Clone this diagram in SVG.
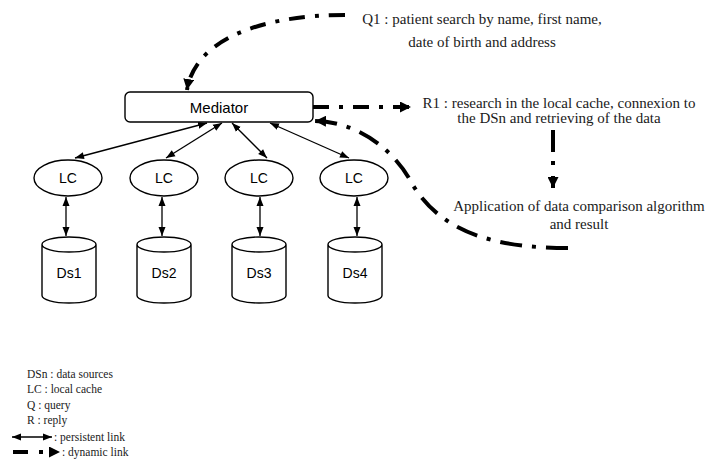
<svg xmlns="http://www.w3.org/2000/svg" width="709" height="459" viewBox="0 0 709 459">
<defs>
<style>
.node{fill:#fff;stroke:#000;stroke-width:1.4}
.sans{font-family:"Liberation Sans",Arial,sans-serif;fill:#000;text-anchor:middle}
.serif{font-family:"Liberation Serif","Times New Roman",serif;fill:#1a1a1a}
.pl{fill:none;stroke:#000;stroke-width:1.3;marker-start:url(#ps);marker-end:url(#pe)}
.dyn{fill:none;stroke:#000;stroke-width:4;stroke-dasharray:16 10 4 10;marker-end:url(#de)}
</style>
<marker id="pe" markerWidth="10" markerHeight="8" refX="9" refY="4" orient="auto" markerUnits="userSpaceOnUse">
<path d="M0,0.5 L9,4 L0,7.5 Z" fill="#000"/>
</marker>
<marker id="ps" markerWidth="10" markerHeight="8" refX="0" refY="4" orient="auto" markerUnits="userSpaceOnUse">
<path d="M9,0.5 L0,4 L9,7.5 Z" fill="#000"/>
</marker>
<marker id="de" markerWidth="12" markerHeight="11" refX="11" refY="5.5" orient="auto" markerUnits="userSpaceOnUse">
<path d="M0,0 L11,5.5 L0,11 Z" fill="#000"/>
</marker>
</defs>
<rect width="709" height="459" fill="#fff"/>

<g id="connectors">
<path class="pl" d="M75,158 L207,123"/>
<path class="pl" d="M166,158 L222,123"/>
<path class="pl" d="M267,158 L232,123"/>
<path class="pl" d="M349,158 L270,123"/>
<path class="pl" d="M66,197 L66,236"/>
<path class="pl" d="M162,197 L162,236"/>
<path class="pl" d="M260,197 L260,236"/>
<path class="pl" d="M357,197 L357,236"/>
<path class="dyn" d="M345,15 C260,15 195,40 187,90"/>
<path class="dyn" d="M313,107 L411,107"/>
<path class="dyn" style="stroke-dasharray:22 10 4 10" d="M568,248 C500,248 440,235 410,180 C398,158 365,122 315,121"/>
<path class="dyn" style="stroke-dasharray:22 9 4 11" d="M553,130 L553,188"/>
</g>

<g id="mediator">
<rect class="node" x="125" y="92" width="188" height="30" rx="5"/>
<text class="sans" x="219" y="113" font-size="15">Mediator</text>
</g>

<g id="lc1"><ellipse class="node" cx="68" cy="178" rx="34" ry="18"/><text class="sans" x="68" y="183" font-size="14">LC</text></g>
<g id="lc2"><ellipse class="node" cx="164" cy="178" rx="34" ry="18"/><text class="sans" x="164" y="183" font-size="14">LC</text></g>
<g id="lc3"><ellipse class="node" cx="259" cy="178" rx="34" ry="18"/><text class="sans" x="259" y="183" font-size="14">LC</text></g>
<g id="lc4"><ellipse class="node" cx="354" cy="178" rx="34" ry="18"/><text class="sans" x="354" y="183" font-size="14">LC</text></g>

<g id="ds1"><path class="node" d="M42,244.5 A27,7.5 0 0,1 96,244.5 L96,295.5 A27,7.5 0 0,1 42,295.5 Z M42,244.5 A27,7.5 0 0,0 96,244.5"/><text class="sans" x="69" y="278" font-size="14">Ds1</text></g>
<g id="ds2"><path class="node" d="M137,244.5 A27,7.5 0 0,1 191,244.5 L191,295.5 A27,7.5 0 0,1 137,295.5 Z M137,244.5 A27,7.5 0 0,0 191,244.5"/><text class="sans" x="164" y="278" font-size="14">Ds2</text></g>
<g id="ds3"><path class="node" d="M232,244.5 A27,7.5 0 0,1 286,244.5 L286,295.5 A27,7.5 0 0,1 232,295.5 Z M232,244.5 A27,7.5 0 0,0 286,244.5"/><text class="sans" x="259" y="278" font-size="14">Ds3</text></g>
<g id="ds4"><path class="node" d="M328,244.5 A27,7.5 0 0,1 382,244.5 L382,295.5 A27,7.5 0 0,1 328,295.5 Z M328,244.5 A27,7.5 0 0,0 382,244.5"/><text class="sans" x="355" y="278" font-size="14">Ds4</text></g>

<g id="q1-label" class="serif" font-size="15" text-anchor="middle">
<text x="482" y="24">Q1 : patient search by name, first name,</text>
<text x="482" y="47">date of birth and address</text>
</g>
<g id="r1-label" class="serif" font-size="15" text-anchor="middle">
<text x="559" y="108">R1 : research in the local cache, connexion to</text>
<text x="559" y="123">the DSn and retrieving of the data</text>
</g>
<g id="app-label" class="serif" font-size="15" text-anchor="middle">
<text x="579" y="211">Application of data comparison algorithm</text>
<text x="579" y="229">and result</text>
</g>

<g id="legend" class="serif" font-size="11.5">
<text x="27" y="378">DSn : data sources</text>
<text x="27" y="393">LC : local cache</text>
<text x="27" y="409">Q : query</text>
<text x="27" y="424">R : reply</text>
<path class="pl" d="M12,437 L52,437"/>
<text x="54" y="441">: persistent link</text>
<path fill="none" stroke="#000" stroke-width="4" stroke-dasharray="15 11 4 100" marker-end="url(#de)" d="M13,452 L60,452"/>
<text x="62" y="456">: dynamic link</text>
</g>
</svg>
